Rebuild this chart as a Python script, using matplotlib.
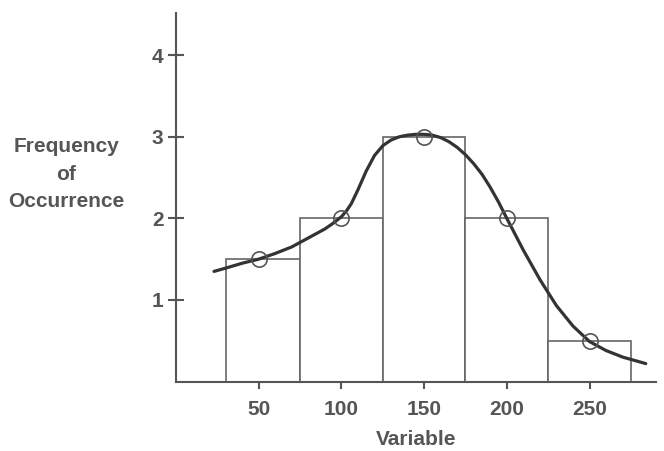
import matplotlib.pyplot as plt

plt.rcParams['font.family'] = ['Liberation Sans', 'DejaVu Sans']

# histogram bins and counts
bin_left = [30, 75, 125, 175, 225]
bin_right = [75, 125, 175, 225, 275]
counts = [1.5, 2, 3, 2, 0.5]

# class midpoints (circles)
mid_x = [50, 100, 150, 200, 250]
mid_y = [1.5, 2, 3, 2, 0.5]

# smooth curve
curve_x = [23, 30, 40, 50, 60, 70, 80, 90, 95, 100, 103, 106, 110, 115, 120, 125, 130,
           135, 140, 145, 150, 155, 160, 165, 170, 175, 180, 185, 190, 195, 200, 210,
           220, 230, 240, 250, 260, 270, 284]
curve_y = [1.35, 1.39, 1.45, 1.50, 1.57, 1.65, 1.76, 1.87, 1.94, 2.02, 2.09, 2.18,
           2.35, 2.58, 2.77, 2.89, 2.96, 3.00, 3.02, 3.03, 3.03, 3.02, 2.99, 2.94,
           2.87, 2.78, 2.67, 2.54, 2.38, 2.20, 2.00, 1.61, 1.25, 0.93, 0.68, 0.49,
           0.38, 0.30, 0.22]

xticks = [50, 100, 150, 200, 250]
yticks = [1, 2, 3, 4]

ink = '#555555'

fig = plt.figure(figsize=(6.64, 4.51), dpi=100)
ax = fig.add_axes([0.265, 0.154, 0.7225, 0.8177])

widths = [r - l for l, r in zip(bin_left, bin_right)]
ax.bar(bin_left, counts, width=widths, align='edge', facecolor='white',
       edgecolor='#666666', linewidth=1.2, zorder=2)
ax.plot(curve_x, curve_y, color='#333333', linewidth=2.3, zorder=3,
        solid_joinstyle='round', solid_capstyle='round')
ax.plot(mid_x, mid_y, 'o', markersize=11, markerfacecolor='none',
        markeredgecolor='#555555', markeredgewidth=1.2, zorder=4)

ax.set_xlim(0, 290)
ax.set_ylim(0, 4.52)
ax.spines['top'].set_visible(False)
ax.spines['right'].set_visible(False)
for s in ['left', 'bottom']:
    ax.spines[s].set_color(ink)
    ax.spines[s].set_linewidth(1.5)

ax.set_xticks(xticks)
ax.set_xticklabels([str(v) for v in xticks])
ax.set_yticks(yticks)
ax.set_yticklabels([str(v) for v in yticks])
ax.tick_params(axis='x', direction='inout', length=10, width=1.5, color=ink,
               labelsize=15, labelcolor=ink, pad=8)
ax.tick_params(axis='y', direction='inout', length=12, width=1.5, color=ink,
               labelsize=15, labelcolor=ink, pad=3)
for lab in ax.get_xticklabels() + ax.get_yticklabels():
    lab.set_fontweight('bold')

ax.set_xlabel('Variable', fontsize=15, fontweight='bold', color=ink, labelpad=8)
fig.text(0.1, 0.614, 'Frequency\nof\nOccurrence', ha='center', va='center',
         fontsize=15, fontweight='bold', color=ink, linespacing=1.55)

fig.savefig('out.png', dpi=100, facecolor='white')
